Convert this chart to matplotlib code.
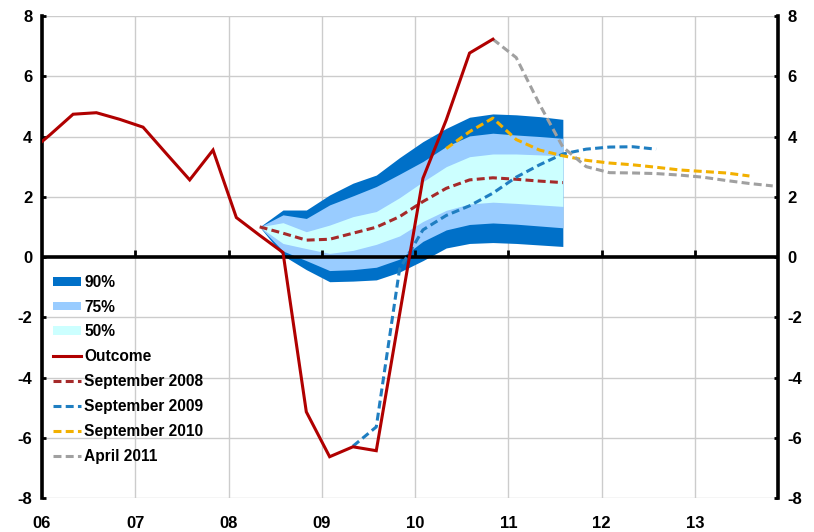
import matplotlib
matplotlib.use("Agg")
import matplotlib.pyplot as plt
from matplotlib.patches import Patch
from matplotlib.lines import Line2D

plt.rcParams['font.family'] = ['Liberation Sans', 'DejaVu Sans']
plt.rcParams['axes.unicode_minus'] = False

def qpos(periods):
    out = []
    for p in periods:
        y, q = p.split("Q")
        out.append(int(y) + (3 * (int(q) - 1) + 1) / 12.0)
    return out

def qrange(start, n):
    y, q = map(int, start.split("Q"))
    res = []
    for _ in range(n):
        res.append(f"{y}Q{q}")
        q += 1
        if q > 4:
            q = 1
            y += 1
    return res

# ---------------- data ----------------
outcome_periods = qrange("2005Q4", 21)
outcome = [3.40, 4.05, 4.74, 4.79, 4.57, 4.31, 3.43, 2.56, 3.55, 1.31, 0.72,
           0.15, -5.14, -6.63, -6.30, -6.43, -1.90, 2.61, 4.55, 6.77, 7.23]

fan_periods = qrange("2008Q2", 14)
sep2008 = [1.00, 0.79, 0.56, 0.59, 0.79, 0.99, 1.34, 1.84, 2.28, 2.56, 2.63, 2.58, 2.52, 2.47]
p90_hi = [1.00, 1.56, 1.56, 2.06, 2.45, 2.72, 3.30, 3.83, 4.27, 4.64, 4.75, 4.72, 4.66, 4.57]
p75_hi = [1.00, 1.40, 1.28, 1.73, 2.03, 2.34, 2.75, 3.17, 3.67, 4.02, 4.11, 4.05, 4.00, 3.94]
p50_hi = [1.00, 1.14, 0.84, 1.06, 1.34, 1.51, 1.97, 2.50, 3.00, 3.33, 3.42, 3.42, 3.39, 3.36]
p50_lo = [1.00, 0.45, 0.28, 0.12, 0.22, 0.42, 0.70, 1.18, 1.55, 1.76, 1.82, 1.78, 1.73, 1.68]
p75_lo = [1.00, 0.20, -0.12, -0.45, -0.42, -0.34, -0.07, 0.52, 0.90, 1.08, 1.13, 1.09, 1.03, 0.97]
p90_lo = [1.00, 0.05, -0.42, -0.82, -0.80, -0.76, -0.50, -0.12, 0.30, 0.45, 0.48, 0.45, 0.40, 0.35]

sep2009_periods = qrange("2009Q2", 14)
sep2009 = [-6.28, -5.64, -0.40, 0.90, 1.38, 1.70, 2.12, 2.65, 3.06, 3.42, 3.58, 3.65, 3.66, 3.58]

sep2010_periods = qrange("2010Q2", 14)
sep2010 = [3.60, 4.16, 4.61, 3.90, 3.55, 3.36, 3.21, 3.12, 3.06, 2.98, 2.89, 2.84, 2.79, 2.69]

apr2011_periods = qrange("2010Q4", 13)
apr2011 = [7.23, 6.62, 5.07, 3.65, 3.00, 2.80, 2.79, 2.77, 2.72, 2.65, 2.54, 2.44, 2.36]

year_ticks = [2006, 2007, 2008, 2009, 2010, 2011, 2012, 2013]
year_labels = ["06", "07", "08", "09", "10", "11", "12", "13"]
y_ticks = [-8, -6, -4, -2, 0, 2, 4, 6, 8]

# ---------------- style ----------------
c90 = "#0070C8"
c75 = "#99CCFF"
c50 = "#CCFFFF"
c_out = "#B00000"
c_s08 = "#A52A2A"
c_s09 = "#1F7EC1"
c_s10 = "#F2B000"
c_a11 = "#A0A0A0"
dash = (0, (2.6, 1.4))

fig = plt.figure(figsize=(8.14, 5.32), dpi=100)
ax = fig.add_axes([0.0516, 0.0639, 0.9042, 0.9060])

xf = qpos(fan_periods)
ax.fill_between(xf, p90_lo, p90_hi, color=c90, lw=0, zorder=1)
ax.fill_between(xf, p75_lo, p75_hi, color=c75, lw=0, zorder=1.1)
ax.fill_between(xf, p50_lo, p50_hi, color=c50, lw=0, zorder=1.2)

ax.axhline(0, color="black", lw=2.6, zorder=3)
ax.vlines(year_ticks[1:], 0, 0.22, color="black", lw=2.0, zorder=3)

lw = 2.2
ax.plot(xf, sep2008, color=c_s08, lw=lw, ls=dash, zorder=4)
ax.plot(qpos(sep2009_periods), sep2009, color=c_s09, lw=lw, ls=dash, zorder=4)
ax.plot(qpos(sep2010_periods), sep2010, color=c_s10, lw=lw, ls=dash, zorder=4)
ax.plot(qpos(apr2011_periods), apr2011, color=c_a11, lw=lw, ls=dash, zorder=4)
ax.plot(qpos(outcome_periods), outcome, color=c_out, lw=lw, zorder=5,
        solid_joinstyle="miter")

ax.set_xlim(2006, 2013.89)
ax.set_ylim(-8, 8)
ax.set_yticks(y_ticks)
ax.set_xticks(year_ticks)
ax.set_xticklabels(year_labels)
ax.grid(True, color="#CCCCCC", lw=1.0, zorder=0)
ax.set_axisbelow(True)

for s in ["top", "bottom"]:
    ax.spines[s].set_visible(False)
for s in ["left", "right"]:
    ax.spines[s].set_linewidth(2.6)
    ax.spines[s].set_color("black")

ax.tick_params(axis="x", length=0, pad=13, labelsize=12)
ax.tick_params(axis="y", direction="in", length=3, width=2, labelsize=12,
               left=True, right=True, labelleft=True, labelright=True, pad=7)
for lab in ax.get_xticklabels() + ax.get_yticklabels():
    lab.set_fontweight("bold")
for t in ax.yaxis.get_major_ticks():
    t.label2.set_fontweight("bold")
    t.label2.set_fontsize(12)

handles = [
    Patch(facecolor=c90, edgecolor="none"),
    Patch(facecolor=c75, edgecolor="none"),
    Patch(facecolor=c50, edgecolor="none"),
    Line2D([], [], color=c_out, lw=lw),
    Line2D([], [], color=c_s08, lw=lw, ls=dash),
    Line2D([], [], color=c_s09, lw=lw, ls=dash),
    Line2D([], [], color=c_s10, lw=lw, ls=dash),
    Line2D([], [], color=c_a11, lw=lw, ls=dash),
]
labels = ["90%", "75%", "50%", "Outcome", "September 2008", "September 2009",
          "September 2010", "April 2011"]
leg = ax.legend(handles, labels, loc="upper left", bbox_to_anchor=(0.0, 0.486),
                frameon=False, prop={"weight": "bold", "size": 11.2},
                handlelength=1.8, handleheight=0.5, handletextpad=0.2,
                labelspacing=0.635, borderaxespad=0.3)
leg.set_zorder(6)

fig.savefig("out.png", dpi=100)
